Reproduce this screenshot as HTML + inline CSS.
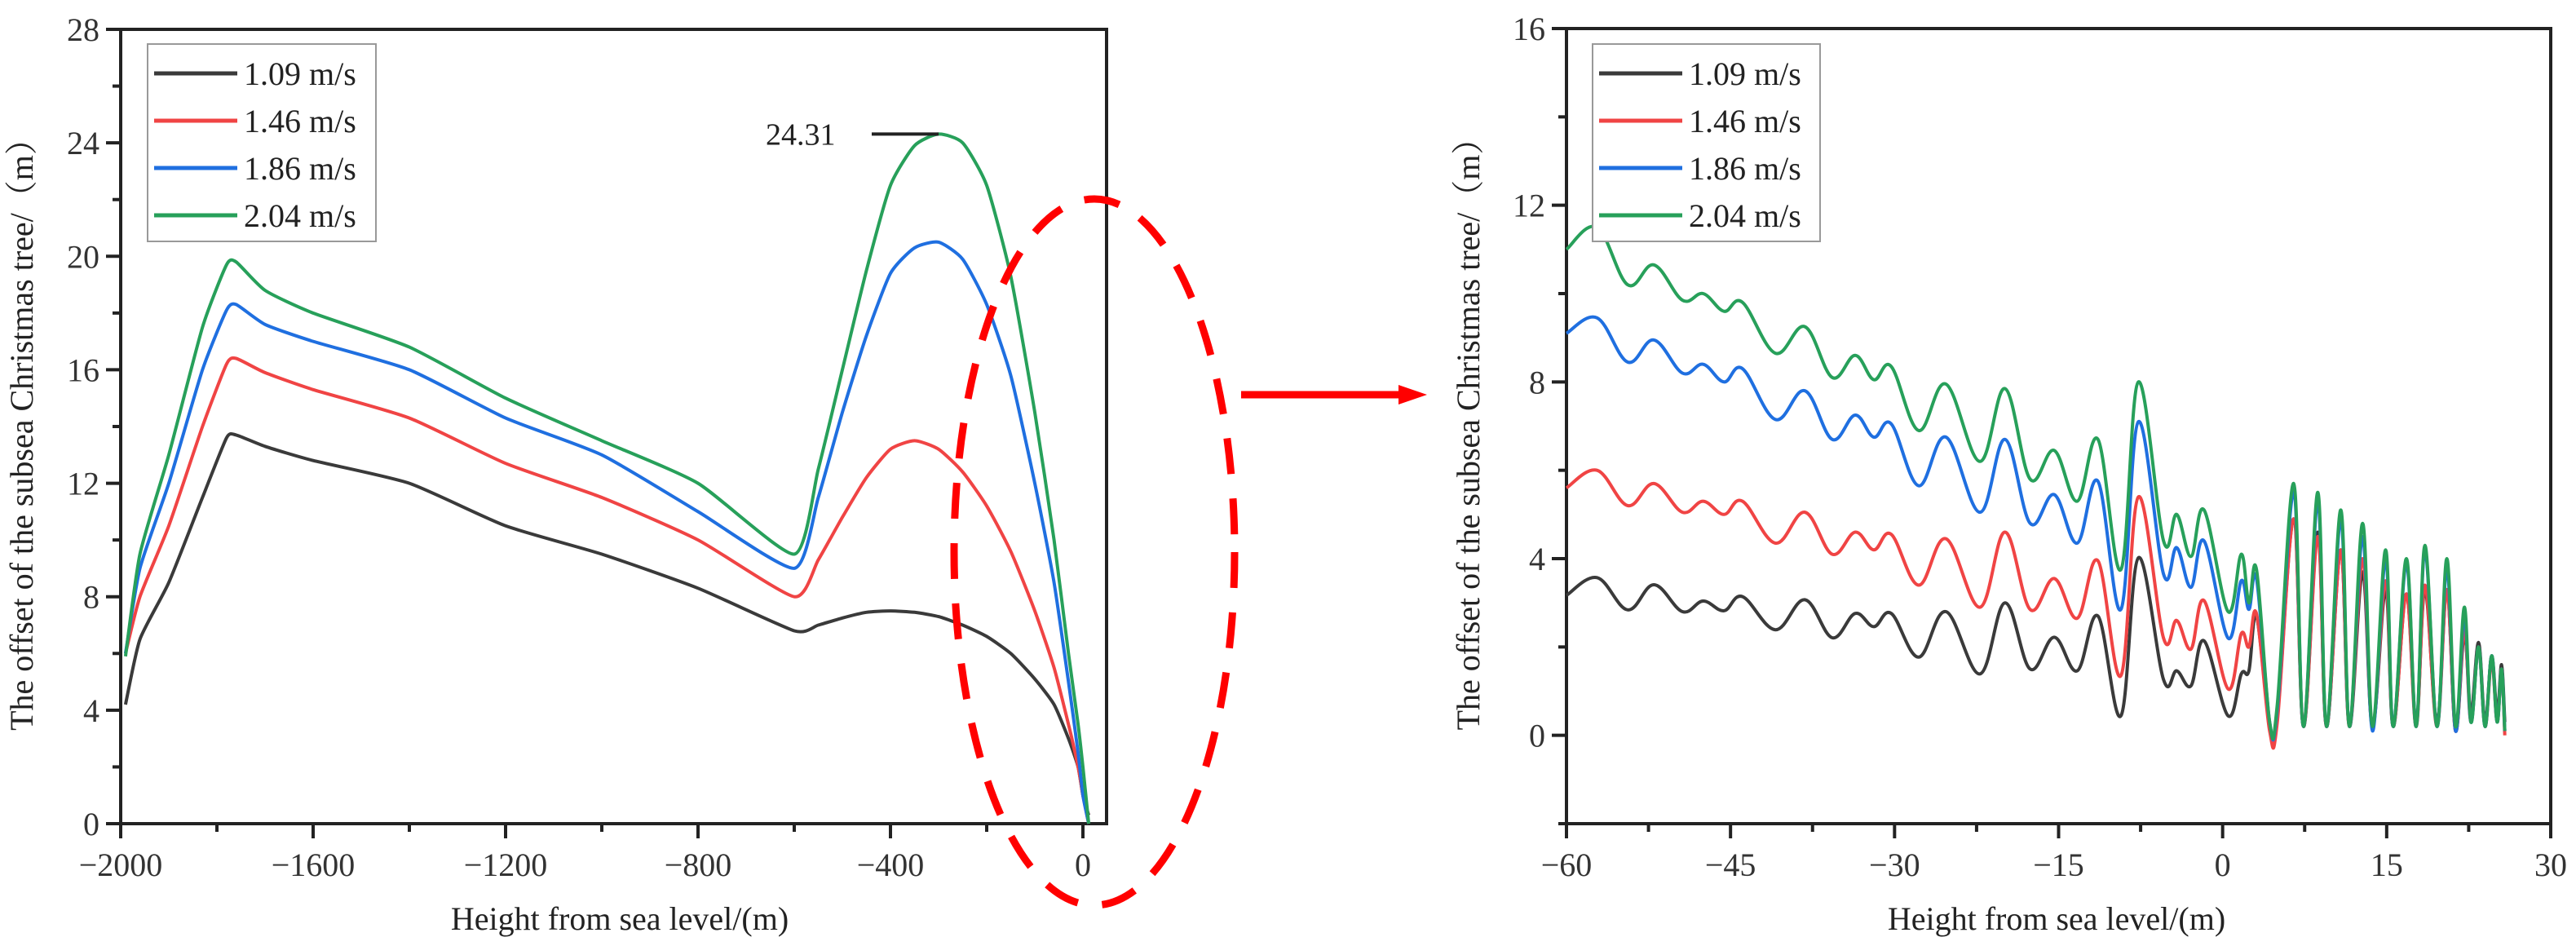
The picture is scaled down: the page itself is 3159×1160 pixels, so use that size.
<!DOCTYPE html>
<html><head><meta charset="utf-8"><style>
html,body{margin:0;padding:0;background:#fff;}
svg{display:block;font-family:"Liberation Serif","Noto Serif CJK SC",serif;}
</style></head><body>
<svg id="fig" width="3159" height="1160" viewBox="0 0 3159 1160" xmlns="http://www.w3.org/2000/svg">
<g id="left"></g>
<g id="right"></g>
<ellipse cx="1342" cy="677" rx="172" ry="433" fill="none" stroke="#ff0000" stroke-width="9" stroke-dasharray="44,30"/>
<g>
<line x1="1522" y1="484" x2="1720" y2="484" stroke="#ff0000" stroke-width="9"/>
<polygon points="1715,472 1750,484 1715,496" fill="#ff0000"/>
</g>
</svg>
<script>
// ---- Left chart data ----
const leftXTicks = [-2000,-1600,-1200,-800,-400,0];
const leftYTicks = [0,4,8,12,16,20,24,28];
const leftX = [-1990,-1960,-1900,-1830,-1780,-1760,-1700,-1600,-1400,-1200,-1000,-800,-600,-550,-500,-450,-400,-350,-300,-250,-200,-150,-100,-60,-30,-10,0,12];
const leftBlack = [4.2,6.5,8.5,11.5,13.6,13.7,13.3,12.8,12.0,10.5,9.5,8.3,6.8,7.0,7.25,7.45,7.5,7.45,7.3,7.0,6.6,6.0,5.1,4.2,3.0,2.0,1.0,0.3];
const leftRed   = [6.0,8.0,10.5,14.0,16.2,16.4,15.9,15.3,14.3,12.7,11.5,10.0,8.0,9.3,10.8,12.2,13.2,13.5,13.2,12.4,11.2,9.6,7.5,5.5,3.5,2.0,1.0,0.0];
const leftBlue  = [6.0,9.0,12.0,16.0,18.1,18.3,17.6,17.0,16.0,14.3,13.0,11.0,9.0,11.5,14.5,17.2,19.4,20.3,20.5,19.9,18.3,15.8,12.0,8.5,5.0,2.5,1.0,0.0];
const leftGreen = [5.9,9.5,13.0,17.5,19.7,19.8,18.8,18.0,16.8,15.0,13.5,12.0,9.5,12.5,16.0,19.5,22.5,23.9,24.31,24.0,22.5,19.3,14.5,10.0,6.0,3.5,2.0,0.0];
const peakLabel = ["24.31"];
// ---- Right chart data ----
const rightXTicks = [-60,-45,-30,-15,0,15,30];
const rightYTicks = [0,4,8,12,16];
const rightX = [-60,-57.2,-54.4,-52,-49.4,-47.5,-45.6,-43.9,-40.9,-38.2,-35.7,-33.6,-31.9,-30.3,-27.8,-25.3,-22.2,-19.9,-17.6,-15.4,-13.3,-11.4,-9.3,-7.7,-5.4,-4.2,-2.9,-1.7,0.5,1.7,2.4,3.1,4.3,5.0,6.5,7.4,8.7,9.5,10.8,11.6,12.8,13.7,14.9,15.6,16.8,17.7,18.5,19.6,20.5,21.3,22.1,22.7,23.4,24.0,24.6,25.1,25.5,25.8];
const rightBlack = [3.17,3.57,2.84,3.41,2.8,3.04,2.82,3.14,2.39,3.07,2.21,2.76,2.46,2.76,1.77,2.8,1.39,3.0,1.5,2.22,1.46,2.7,0.44,4.02,1.26,1.46,1.12,2.14,0.44,1.39,1.46,2.7,0.2,0.4,4.9,0.2,4.6,0.2,4.2,0.2,3.7,0.2,3.3,0.2,3.2,0.3,3.3,0.3,3.3,0.1,2.3,0.5,2.1,0.3,1.8,0.5,1.6,0.3];
const rightRed = [5.6,6.0,5.2,5.7,5.05,5.3,5.0,5.3,4.35,5.05,4.1,4.6,4.2,4.55,3.4,4.45,2.9,4.6,2.85,3.55,2.65,3.95,1.35,5.4,2.2,2.6,1.95,3.05,1.05,2.3,2.0,2.75,0.1,0.3,4.9,0.2,4.5,0.2,4.2,0.2,4.0,0.2,3.5,0.2,3.2,0.2,3.4,0.2,3.3,0.1,2.4,0.3,2.0,0.2,1.7,0.3,1.5,0.0];
const rightBlue = [9.1,9.45,8.45,8.95,8.2,8.4,8.0,8.3,7.15,7.8,6.7,7.25,6.75,7.05,5.65,6.75,5.05,6.7,4.8,5.45,4.35,5.75,2.85,7.1,3.65,4.25,3.35,4.4,2.2,3.5,2.85,3.55,0.3,0.6,5.5,0.2,5.3,0.2,4.9,0.2,4.5,0.1,4.0,0.2,3.9,0.2,4.2,0.2,3.8,0.1,2.7,0.3,2.0,0.2,1.8,0.3,1.5,0.1];
const rightGreen = [11.0,11.5,10.2,10.65,9.85,10.0,9.6,9.8,8.65,9.25,8.1,8.6,8.05,8.35,6.9,7.95,6.2,7.85,5.8,6.45,5.3,6.7,3.75,8.0,4.4,5.0,4.05,5.1,2.8,4.1,3.0,3.75,0.3,0.7,5.7,0.2,5.5,0.2,5.1,0.2,4.8,0.2,4.2,0.2,4.0,0.2,4.3,0.2,4.0,0.2,2.9,0.3,2.0,0.2,1.8,0.3,1.5,0.1];
const legendLabels = ["1.09 m/s","1.46 m/s","1.86 m/s","2.04 m/s"];
const colors = ["#3a3a3a","#f04444","#1f6fe0","#27a05a"];
const yTitle = "The offset of the subsea Christmas tree/（m）";
const xTitle = "Height from sea level/(m)";

const NS="http://www.w3.org/2000/svg";
function mk(parent,tag,attrs,text){const e=document.createElementNS(NS,tag);for(const k in attrs)e.setAttribute(k,attrs[k]);if(text!==undefined)e.textContent=text;parent.appendChild(e);return e;}
function lin(d0,d1,p0,p1){return v=>p0+(v-d0)*(p1-p0)/(d1-d0);}
function smoothPath(xs,ys,sx,sy,t){
  const P=xs.map((x,i)=>[sx(x),sy(ys[i])]);
  let d="M"+P[0][0].toFixed(1)+","+P[0][1].toFixed(1);
  for(let i=0;i<P.length-1;i++){
    const p0=P[i-1]||P[i],p1=P[i],p2=P[i+1],p3=P[i+2]||P[i+1];
    const c1=[p1[0]+(p2[0]-p0[0])*t,p1[1]+(p2[1]-p0[1])*t];
    const c2=[p2[0]-(p3[0]-p1[0])*t,p2[1]-(p3[1]-p1[1])*t];
    d+=" C"+c1[0].toFixed(1)+","+c1[1].toFixed(1)+" "+c2[0].toFixed(1)+","+c2[1].toFixed(1)+" "+p2[0].toFixed(1)+","+p2[1].toFixed(1);
  }
  return d;
}
function drawChart(g,cfg){
  const {L,R,T,B,sx,sy,xTicks,xMinor,yTicks,yMinor,series,xs,legend,yTitleX,xTitleX,tension}=cfg;
  const frame=mk(g,"rect",{x:L,y:T,width:R-L,height:B-T,fill:"none",stroke:"#222","stroke-width":4});
  
  
  const xa=mk(g,"g",{});
  
  
  xTicks.forEach(v=>{
    const x=sx(v);
    mk(xa,"line",{x1:x,y1:B,x2:x,y2:B+18,stroke:"#222","stroke-width":4});
    const t=mk(xa,"text",{x:x,y:B+64,"font-size":40,"text-anchor":"middle",fill:"#333"},String(v).replace("-","−"));
    
    
  });
  xMinor.forEach(v=>{const x=sx(v);mk(xa,"line",{x1:x,y1:B,x2:x,y2:B+10,stroke:"#222","stroke-width":4});});
  const ya=mk(g,"g",{});
  
  
  yTicks.forEach(v=>{
    const y=sy(v);
    mk(ya,"line",{x1:L-18,y1:y,x2:L,y2:y,stroke:"#222","stroke-width":4});
    const t=mk(ya,"text",{x:L-26,y:y+14,"font-size":40,"text-anchor":"end",fill:"#333"},String(v));
    
    
  });
  yMinor.forEach(v=>{const y=sy(v);mk(ya,"line",{x1:L-10,y1:y,x2:L,y2:y,stroke:"#222","stroke-width":4});});
  const xt=mk(g,"text",{x:xTitleX,y:B+130,"font-size":40,"text-anchor":"middle",fill:"#222"},xTitle);
  
  
  const yc=(T+B)/2;
  const yt=mk(g,"text",{x:yTitleX,y:yc,"font-size":40,"text-anchor":"middle",fill:"#222",transform:"rotate(-90 "+yTitleX+" "+yc+")"},yTitle);
  
  
  series.forEach((ys,i)=>{
    const p=mk(g,"path",{d:smoothPath(xs,ys,sx,sy,tension),fill:"none",stroke:colors[i],"stroke-width":4,"stroke-linejoin":"round"});
    
    
  });
  const lg=mk(g,"g",{});
  
  
  mk(lg,"rect",{x:legend.x,y:54,width:legend.w,height:242,fill:"#fff",stroke:"#999","stroke-width":2});
  legendLabels.forEach((lab,i)=>{
    const y=90+i*58;
    const e=mk(lg,"g",{});
    
    
    mk(e,"line",{x1:legend.x+8,y1:y,x2:legend.x+110,y2:y,stroke:colors[i],"stroke-width":5});
    mk(e,"text",{x:legend.x+118,y:y+14,"font-size":40,fill:"#222"},lab);
  });
}
// Left
(function(){
  const L=148,R=1357,T=36,B=1010;
  const sx=lin(-2000,0,L,1328), sy=lin(0,28,B,T);
  const g=document.getElementById('left');
  const xMinor=[-1800,-1400,-1000,-600,-200], yMinor=[2,6,10,14,18,22,26];
  drawChart(g,{L,R,T,B,sx,sy,xTicks:leftXTicks,xMinor,yTicks:leftYTicks,yMinor,series:[leftBlack,leftRed,leftBlue,leftGreen],xs:leftX,legend:{x:181,w:280},yTitleX:40,xTitleX:760,tension:0.1});
  const pk=leftGreen.indexOf(Math.max(...leftGreen));
  const px=sx(leftX[pk]), py=sy(leftGreen[pk]);
  const a=mk(g,"line",{x1:px-82,y1:py,x2:px,y2:py,stroke:"#222","stroke-width":4});
  
  
  const t=mk(g,"text",{x:px-212,y:py+13,"font-size":38,fill:"#222"},peakLabel[0]);
  
  
})();
// Right
(function(){
  const L=1921,R=3128,T=35,B=1010;
  const sx=lin(-60,30,L,R), sy=lin(-2,16,B,T);
  const g=document.getElementById('right');
  const xMinor=[-52.5,-37.5,-22.5,-7.5,7.5,22.5], yMinor=[-2,2,6,10,14];
  drawChart(g,{L,R,T,B,sx,sy,xTicks:rightXTicks,xMinor,yTicks:rightYTicks,yMinor,series:[rightBlack,rightRed,rightBlue,rightGreen],xs:rightX,legend:{x:1953,w:279},yTitleX:1814,xTitleX:2522,tension:0.18});
})();
</script>
</body></html>
